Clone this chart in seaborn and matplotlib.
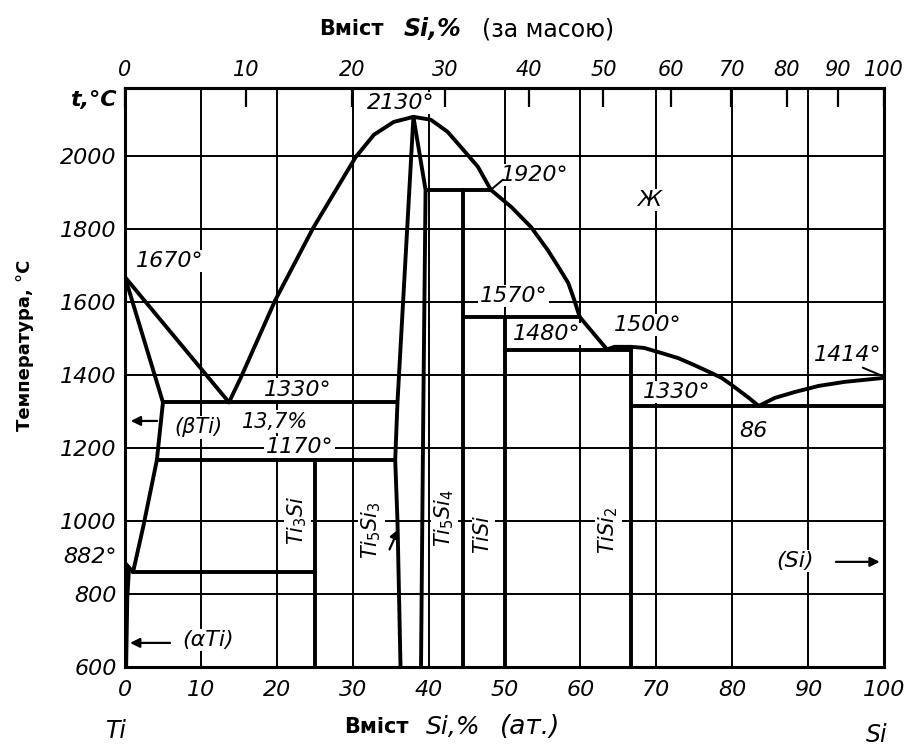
import numpy as np
import pandas as pd
import matplotlib
matplotlib.use("Agg")
import matplotlib.pyplot as plt
import seaborn as sns
from matplotlib.transforms import IdentityTransform

# ---------------- data (at.% Si, temperature °C) ----------------
ti_liquidus_x = [0.0, 13.7]
ti_liquidus_t = [1668, 1325]
ti_solidus_x = [0.0, 5.0]
ti_solidus_t = [1668, 1325]
beta_solvus_x = [5.0, 4.2, 2.4, 1.06]
beta_solvus_t = [1325, 1167, 984, 860]
beta_transus_x = [0.0, 1.06]
beta_transus_t = [885, 860]
alpha_solvus_x = [0.0, 0.5, 0.3, 0.15]
alpha_solvus_t = [885, 860, 790, 600]

ti5si3_liq_left_x = [13.7, 15.2, 19.8, 24.8, 30.4, 32.8, 35.4, 38.0]
ti5si3_liq_left_t = [1325, 1390, 1605, 1803, 1997, 2058, 2093, 2107]
ti5si3_liq_right_x = [38.0, 40.3, 42.5, 44.6, 46.5, 48.2, 50.9, 53.5, 55.7, 57.1, 58.4, 59.2, 59.9, 63.5]
ti5si3_liq_right_t = [2107, 2099, 2066, 2016, 1970, 1907, 1860, 1805, 1742, 1696, 1652, 1605, 1559, 1470]
tisi2_liq_x = [63.5, 64.5, 66.7, 68.4, 70.7, 72.9, 75.0, 77.3, 78.6, 79.9, 80.8, 82.2, 83.5]
tisi2_liq_t = [1470, 1477, 1477, 1474, 1460, 1446, 1427, 1405, 1392, 1373, 1359, 1337, 1315]
si_liq_x = [83.5, 85.6, 88.2, 91.4, 94.8, 100.0]
si_liq_t = [1315, 1337, 1353, 1370, 1381, 1392]

ti5si3_left_x = [38.0, 35.9, 35.6, 35.9, 36.3]
ti5si3_left_t = [2107, 1325, 1167, 1000, 600]
ti5si3_right_x = [38.0, 39.6, 39.3, 39.0]
ti5si3_right_t = [2107, 1907, 1300, 600]

eut_1330_left_x = [5.0, 35.9]
eut_1330_left_t = [1325, 1325]
iso_1170_x = [4.2, 35.6]
iso_1170_t = [1167, 1167]
eutectoid_x = [1.06, 25.0]
eutectoid_t = [860, 860]
ti3si_x = [25.0, 25.0]
ti3si_t = [1167, 600]
per_1920_x = [39.6, 48.2]
per_1920_t = [1907, 1907]
ti5si4_x = [44.5, 44.5]
ti5si4_t = [1907, 600]
per_1570_x = [44.5, 59.9]
per_1570_t = [1559, 1559]
tisi_x = [50.0, 50.0]
tisi_t = [1559, 600]
eut_1480_x = [50.0, 66.7]
eut_1480_t = [1468, 1468]
tisi2_x = [66.7, 66.7]
tisi2_t = [1477, 600]
eut_1330_right_x = [66.7, 100.0]
eut_1330_right_t = [1315, 1315]

segments = {
    "ti_liq": (ti_liquidus_x, ti_liquidus_t),
    "ti_sol": (ti_solidus_x, ti_solidus_t),
    "beta_solvus": (beta_solvus_x, beta_solvus_t),
    "beta_transus": (beta_transus_x, beta_transus_t),
    "alpha_solvus": (alpha_solvus_x, alpha_solvus_t),
    "liq_l": (ti5si3_liq_left_x, ti5si3_liq_left_t),
    "liq_r": (ti5si3_liq_right_x, ti5si3_liq_right_t),
    "liq_tisi2": (tisi2_liq_x, tisi2_liq_t),
    "liq_si": (si_liq_x, si_liq_t),
    "t53_l": (ti5si3_left_x, ti5si3_left_t),
    "t53_r": (ti5si3_right_x, ti5si3_right_t),
    "e1330l": (eut_1330_left_x, eut_1330_left_t),
    "i1170": (iso_1170_x, iso_1170_t),
    "eutd": (eutectoid_x, eutectoid_t),
    "ti3si": (ti3si_x, ti3si_t),
    "p1920": (per_1920_x, per_1920_t),
    "ti5si4": (ti5si4_x, ti5si4_t),
    "p1570": (per_1570_x, per_1570_t),
    "tisi": (tisi_x, tisi_t),
    "e1480": (eut_1480_x, eut_1480_t),
    "tisi2": (tisi2_x, tisi2_t),
    "e1330r": (eut_1330_right_x, eut_1330_right_t),
}

rows = []
for name, (xs, ts) in segments.items():
    for i, (x, t) in enumerate(zip(xs, ts)):
        rows.append({"seg": name, "order": i, "x": x, "t": t})
df = pd.DataFrame(rows)

bottom_ticks = [0, 10, 20, 30, 40, 50, 60, 70, 80, 90, 100]
top_ticks_wt = [0, 10, 20, 30, 40, 50, 60, 70, 80, 90, 100]
y_ticks = [600, 800, 1000, 1200, 1400, 1600, 1800, 2000]

M_SI, M_TI = 28.086, 47.867


def at2wt(a):
    a = np.clip(np.asarray(a, dtype=float), 0, 100)
    return 100 * a * M_SI / (a * M_SI + (100 - a) * M_TI)


def wt2at(w):
    w = np.clip(np.asarray(w, dtype=float), 0, 100)
    return 100 * (w / M_SI) / (w / M_SI + (100 - w) / M_TI)


# ---------------- figure ----------------
sns.set_theme(style="white")
plt.rcParams["font.family"] = ["DejaVu Sans"]
plt.rcParams["mathtext.fontset"] = "dejavusans"
for k in ("text.color", "axes.labelcolor", "xtick.color", "ytick.color"):
    plt.rcParams[k] = "black"

fig = plt.figure(figsize=(9.14, 7.49), dpi=100)
ax = fig.add_axes([125 / 914, 1 - 667 / 749, (884 - 125) / 914, (667 - 88) / 749])

sns.lineplot(data=df, x="x", y="t", units="seg", estimator=None, sort=False,
             color="black", lw=2.8, ax=ax, legend=False, zorder=3)

ax.set_xlim(0, 100)
ax.set_ylim(600, 2186)
ax.set_xticks(bottom_ticks)
ax.set_yticks(y_ticks)
ax.set_xticklabels([str(v) for v in bottom_ticks], fontsize=16, style="italic")
ax.set_yticklabels([str(v) for v in y_ticks], fontsize=16, style="italic")
ax.set_xlabel("")
ax.set_ylabel("")
ax.tick_params(axis="x", length=0, pad=9, colors="black")
ax.tick_params(axis="y", length=0, pad=6, colors="black")
ax.grid(True, color="black", lw=1.4)
ax.set_axisbelow(True)
for s in ax.spines.values():
    s.set_visible(True)
    s.set_color("black")
    s.set_linewidth(2.2)

sec = ax.secondary_xaxis("top", functions=(at2wt, wt2at))
sec.set_xticks(top_ticks_wt)
sec.set_xticklabels([str(v) for v in top_ticks_wt], fontsize=15, style="italic")
sec.tick_params(direction="in", length=14, width=1.6, pad=6, colors="black")
sec.spines["top"].set_linewidth(2.2)

box = dict(fc="white", ec="none", pad=1.0)


def lab(x, t, s, size=16, rot=0, ha="center", va="center", **kw):
    ax.text(x, t, s, fontsize=size, style="italic", rotation=rot, ha=ha, va=va,
            bbox=box, zorder=2.5, clip_on=False, **kw)


lab(36.3, 2145, "2130°")
lab(5.9, 1712, "1670°")
lab(54.0, 1948, "1920°")
lab(69.0, 1879, "Ж")
lab(51.2, 1616, "1570°")
lab(55.6, 1512, "1480°")
lab(68.9, 1537, "1500°")
lab(95.2, 1455, "1414°")
lab(72.7, 1353, "1330°")
lab(82.8, 1247, "86")
lab(88.3, 890, "(Si)")
lab(22.7, 1360, "1330°")
lab(9.7, 1257, "(βTi)", size=15)
lab(19.8, 1272, "13,7%", size=15)
lab(23.0, 1203, "1170°")
lab(10.9, 674, "(αTi)")
lab(22.7, 1003, r"$Ti_3Si$", size=15, rot=90)
lab(32.5, 975, r"$Ti_5Si_3$", size=15, rot=90)
lab(42.1, 1008, r"$Ti_5Si_4$", size=15, rot=90)
lab(47.2, 964, r"$TiSi$", size=15, rot=90)
lab(63.7, 975, r"$TiSi_2$", size=15, rot=90)

# leaders and arrows
arr = dict(arrowstyle="-|>", color="black", lw=1.6, mutation_scale=14)
ax.annotate("", xy=(0.4, 1274), xytext=(4.6, 1274), arrowprops=arr, zorder=4)
ax.annotate("", xy=(0.3, 666), xytext=(6.3, 666), arrowprops=arr, zorder=4)
ax.annotate("", xy=(99.8, 888), xytext=(93.3, 888), arrowprops=arr, zorder=4)
ax.annotate("", xy=(36.2, 985), xytext=(34.7, 915), arrowprops=arr, zorder=4)
ax.plot([48.2, 49.8], [1907, 1935], color="black", lw=1.4, zorder=3)
ax.plot([97.2, 99.7], [1420, 1398], color="black", lw=1.4, zorder=3)

ax.text(-1.1, 900, "882°", fontsize=16, style="italic", ha="right", va="center", clip_on=False)
ax.text(-1.1, 2153, "t,°C", fontsize=16, style="italic", weight="bold", ha="right",
        va="center", clip_on=False)

fig.text(25 / 914, 1 - 345 / 749, "Температура, °C", rotation=90, ha="center", va="center",
         fontsize=13, weight="bold")


def put(x, y_img, s, **kw):
    fig.text(x, 749 - y_img, s, transform=IdentityTransform(), ha="left", va="center", **kw)


# top title
put(319, 29, "Вміст", fontsize=15, weight="bold")
put(404, 29, "Si,%", fontsize=17, weight="bold", style="italic")
put(482, 29, "(за масою)", fontsize=17)
# bottom title
put(344, 727, "Вміст", fontsize=15, weight="bold")
put(426, 727, "Si,%", fontsize=18, style="italic")
put(500, 727, "(ат.)", fontsize=19, style="italic")
# element names under the axis ends
put(106, 731, "Ti", fontsize=17, style="italic")
put(866, 735, "Si", fontsize=17, style="italic")

fig.savefig("out.png", dpi=100, facecolor="white")
